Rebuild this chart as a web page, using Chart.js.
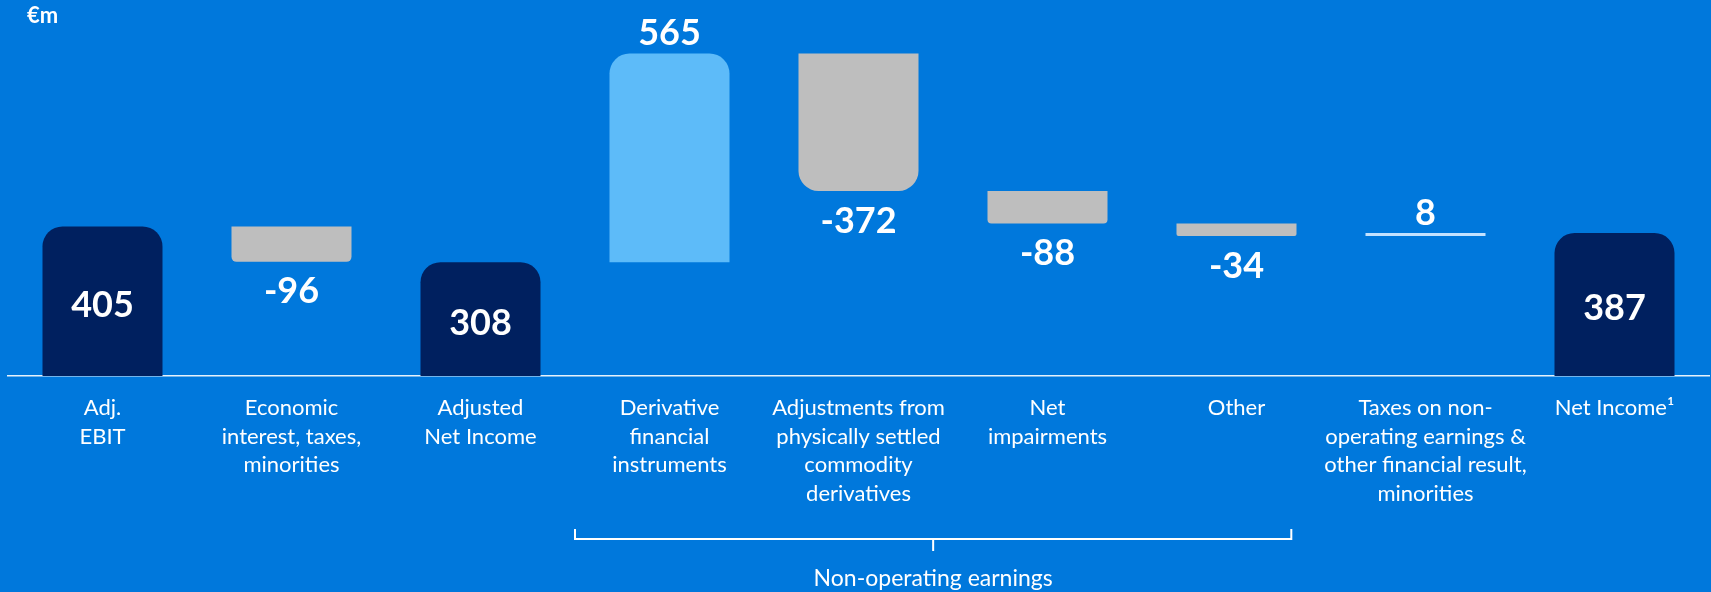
<!DOCTYPE html>
<html>
<head>
<meta charset="utf-8">
<script src="https://cdn.jsdelivr.net/npm/chart.js@4"></script>
<style>
  html, body { margin: 0; padding: 0; background: #0078DC; }
  canvas { display: block; }
</style>
</head>
<body>
<canvas id="bridgeChart" width="1711" height="592"></canvas>
<script>
// €m, Adj. EBIT to Net Income bridge
const categories = [
    ['Adj.', 'EBIT'],
    ['Economic', 'interest, taxes,', 'minorities'],
    ['Adjusted', 'Net Income'],
    ['Derivative', 'financial', 'instruments'],
    ['Adjustments from', 'physically settled', 'commodity', 'derivatives'],
    ['Net', 'impairments'],
    ['Other'],
    ['Taxes on non-', 'operating earnings &', 'other financial result,', 'minorities'],
    ['Net Income\u00B9']
];
const values = [405, -96, 308, 565, -372, -88, -34, 8, 387];
const isTotal = [true, false, true, false, false, false, false, false, true];
const unitLabel = '€m';
const groupLabel = 'Non-operating earnings';

// styles
const bg = '#0078DC';
const navy = '#00205F';
const barColors = [navy, '#BEBEBE', navy, '#5DBBF9', '#BEBEBE', '#BEBEBE', '#BEBEBE', '#C3E2FF', navy];
const cornerRadius = [20, 5, 20, 20, 20, 4, 2, 0, 20];
const fontName = 'Lato, "Open Sans", sans-serif';

// floating bars [start, end] from the running total
let running = 0;
const floating = values.map(function(v, i) {
    if (isTotal[i]) {
        running = v;
        return [0, v];
    }
    const start = running;
    running = running + v;
    return [start, running];
});

const labelsPlugin = {
    id: 'bridgeLabels',
    afterDatasetsDraw(chart) {
        const ctx = chart.ctx;
        const meta = chart.getDatasetMeta(0);
        const area = chart.chartArea;
        ctx.save();
        ctx.fillStyle = '#FFFFFF';
        ctx.textAlign = 'center';
        ctx.textBaseline = 'middle';
        ctx.font = 'bold 36px ' + fontName;
        meta.data.forEach(function(el, i) {
            const top = Math.min(el.y, el.base);
            const bottom = Math.max(el.y, el.base);
            let y;
            if (isTotal[i]) y = (top + bottom) / 2 + 4;
            else if (values[i] > 0) y = top - 20;
            else y = bottom + 30;
            ctx.fillText(String(values[i]), el.x, y);
        });

        // unit
        ctx.textAlign = 'left';
        ctx.font = 'bold 22px ' + fontName;
        ctx.fillText(unitLabel, 27, 16);

        // bracket under the non-operating items
        const x = chart.scales.x;
        const step = x.getPixelForValue(1) - x.getPixelForValue(0);
        const left = x.getPixelForValue(3) - step * 0.5;
        const right = x.getPixelForValue(6) + step * 0.29;
        const mid = (left + right) / 2;
        const yLine = area.bottom + 163;
        ctx.strokeStyle = '#FFFFFF';
        ctx.lineWidth = 2;
        ctx.beginPath();
        ctx.moveTo(left, yLine - 10);
        ctx.lineTo(left, yLine);
        ctx.lineTo(right, yLine);
        ctx.lineTo(right, yLine - 10);
        ctx.moveTo(mid, yLine);
        ctx.lineTo(mid, yLine + 12);
        ctx.stroke();

        ctx.textAlign = 'center';
        ctx.font = '23px ' + fontName;
        ctx.fillText(groupLabel, mid, area.bottom + 203);
        ctx.restore();
    }
};

const ctx = document.getElementById('bridgeChart');
const chart = new Chart(ctx, {
    type: 'bar',
    data: {
        labels: categories,
        datasets: [{
            data: floating,
            backgroundColor: barColors,
            borderWidth: 0,
            borderSkipped: false,
            borderRadius: function(c) {
                const r = cornerRadius[c.dataIndex];
                if (values[c.dataIndex] < 0) {
                    return {topLeft: 0, topRight: 0, bottomLeft: r, bottomRight: r};
                }
                return {topLeft: r, topRight: r, bottomLeft: 0, bottomRight: 0};
            },
            categoryPercentage: 1,
            barPercentage: 0.635
        }]
    },
    options: {
        responsive: false,
        animation: false,
        layout: { padding: { left: 8, right: 2, top: 0, bottom: 0 } },
        plugins: {
            legend: { display: false },
            tooltip: { enabled: false }
        },
        scales: {
            x: {
                grid: { display: false, drawTicks: false },
                border: { display: true, color: 'rgba(255,255,255,0.9)', width: 1.5 },
                ticks: {
                    color: '#FFFFFF',
                    font: { family: fontName, size: 22, lineHeight: '28.5px' },
                    padding: 18,
                    autoSkip: false,
                    maxRotation: 0,
                    minRotation: 0
                },
                afterFit: function(scale) { scale.height = 216; }
            },
            y: {
                display: false,
                min: 0,
                max: 1018
            }
        }
    },
    plugins: [labelsPlugin]
});
</script>
</body>
</html>
